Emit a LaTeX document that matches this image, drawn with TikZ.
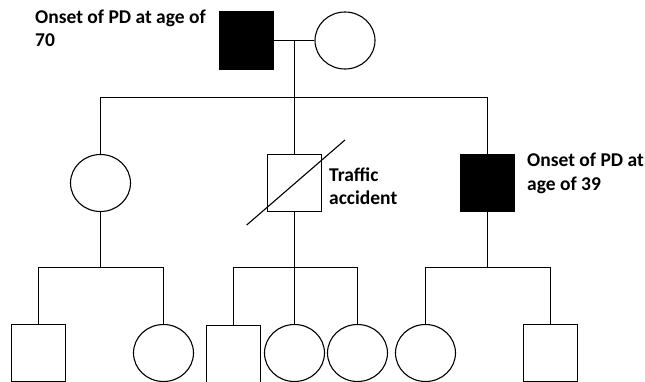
\documentclass[tikz,border=0pt]{standalone}
\usepackage{fontspec}
\setmainfont{Carlito}
\usetikzlibrary{shapes.geometric, positioning}

\tikzset{
  male/.style={draw, rectangle, minimum width=54pt, minimum height=57pt, inner sep=0pt, line width=1.1pt},
  female/.style={draw, ellipse, minimum width=60pt, minimum height=57pt, inner sep=0pt, line width=1.1pt},
  affected/.style={fill=black},
  note/.style={align=left, inner sep=0pt, font=\bfseries\fontsize{19.5}{23.3}\selectfont},
  link/.style={line width=1.1pt}
}

\begin{document}
\begin{tikzpicture}[x=1pt, y=-1pt]

	\clip (0,0) rectangle (645,381);

%first generation
	\node [male, affected] (father) at (246.5,40.5){};
	\node [female] (mother) at (345,40.5){};
	\node [note, anchor=base west] (pd70) at (35,46.7){Onset of PD at age of\\70};

	\coordinate [] (M) at (294.5,40.5){};
	\coordinate [] (S1) at (294.5,97.5){};
	\draw [link] (father) -- (mother);
	\draw [link] (M) -- (S1);

%second generation
	\node [female] (D1) at (100.5,183){};
	\node [male] (S2) at (294.5,183){};
	\node [male, affected] (S3) at (487.5,183){};
	\node [note, anchor=base west] (accident) at (329,204.5){Traffic\\accident};
	\node [note, anchor=base west] (pd39) at (527,190){Onset of PD at\\age of 39};

	\draw [link] (D1) -- (D1 |- S1) -- (S3 |- S1) -- (S3);
	\draw [link] (S2) -- (S1);
	%deceased
	\coordinate [] (DL) at (246.7,225){};
	\coordinate [] (DH) at (345,140){};
	\draw [link] (DL) -- (DH);

%third generation
	\node [male] (G1) at (38.5,353){};
	\node [female] (G2) at (163.5,353){};
	\node [male] (G3) at (233.5,354){};
	\node [female] (G4) at (294.5,353){};
	\node [female] (G5) at (357.5,353){};
	\node [female] (G6) at (425.5,353){};
	\node [male] (G7) at (550.5,353){};

	\coordinate [] (S2a) at (100.5,267.5){};
	\coordinate [] (S3a) at (294.5,267.5){};
	\coordinate [] (S4a) at (487.5,267.5){};

	\draw [link] (D1) -- (S2a);
	\draw [link] (G1) -- (G1 |- S2a) -- (G2 |- S2a) -- (G2);
	\draw [link] (S2) -- (G4);
	\draw [link] (G3) -- (G3 |- S3a) -- (G5 |- S3a) -- (G5);
	\draw [link] (S3) -- (S4a);
	\draw [link] (G6) -- (G6 |- S4a) -- (G7 |- S4a) -- (G7);

\end{tikzpicture}
\end{document}
